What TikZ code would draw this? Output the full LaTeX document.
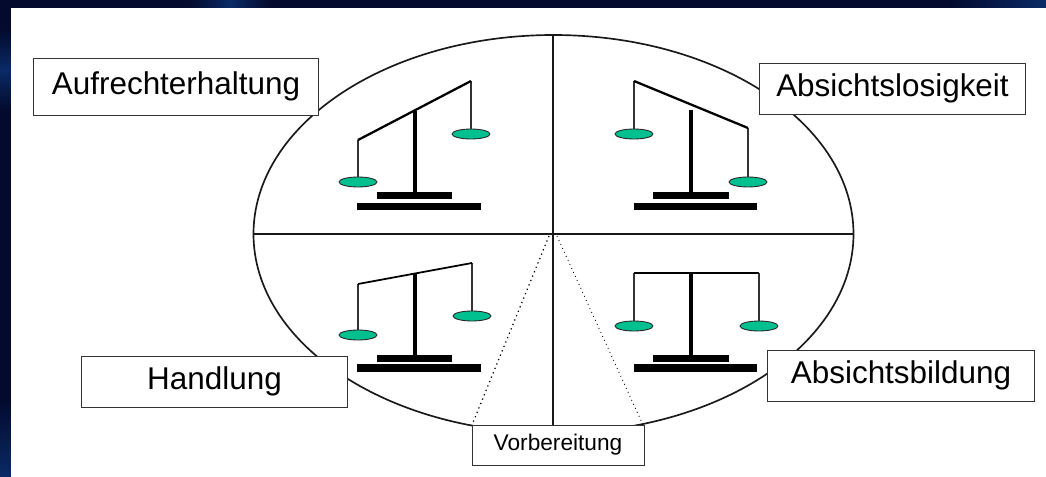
\documentclass[tikz,border=0pt]{standalone}
\usepackage{fontspec}
\setmainfont{Liberation Sans}
\begin{document}
\begin{tikzpicture}[x=0.02cm, y=-0.02cm,
        labelbox/.style={draw=black!80, fill=white, line width=0.55pt, inner sep=0pt, font=\fontsize{17.9pt}{20pt}\selectfont},
        smallbox/.style={labelbox, font=\fontsize{12.9pt}{15pt}\selectfont},
        pan/.style={draw=black!85, fill=panGreen, line width=0.5pt},
        string/.style={draw=black!80, line width=0.6pt},
        beam/.style={draw=black, line width=1.3pt},
        post/.style={draw=black, line width=2.2pt},
        foot/.style={fill=black},
        divider/.style={draw=black!90, line width=0.95pt}]
        \definecolor{panGreen}{HTML}{00C090}
        \definecolor{navyBack}{HTML}{030A2E}
        \definecolor{navyLight}{HTML}{0A2A66}
        \useasboundingbox (0,0) rectangle (1046,477);

        % Backdrop
        \fill[navyBack] (0,0) rectangle (1046,477);
        \shade[top color=navyBack, bottom color=navyLight] (0,400) rectangle (11,477);
        \shade[top color=navyBack, bottom color=navyBack, middle color=navyLight] (0,30) rectangle (11,110);
        \shade[left color=navyBack, right color=navyBack, middle color=navyLight] (190,0) rectangle (270,8);
        \shade[left color=navyBack, right color=navyLight] (950,0) rectangle (1046,8);
        \fill[white] (11,8) rectangle (1046,477);

        % Circle and quadrants
        \draw[divider] (553.5,234) ellipse (300 and 199);
        \draw[divider] (253.5,234) -- (853.5,234);
        \draw[divider] (553,35) -- (553,433);

        % Scale top left
        \draw[string] (358,140) -- (358,182);
        \draw[string] (471,81) -- (471,134);
        \draw[beam] (358,140) -- (471,81);
        \draw[post] (415,111) -- (415,193);
        \fill[foot] (377,192) rectangle (452,199);
        \fill[foot] (357,203) rectangle (481,210);
        \draw[pan] (358,182) ellipse (19 and 5);
        \draw[pan] (471,134) ellipse (19 and 5);

        % Scale top right
        \draw[string] (634,81) -- (634,134);
        \draw[string] (748,128) -- (748,182);
        \draw[beam] (634,81) -- (748,128);
        \draw[post] (691,110) -- (691,193);
        \fill[foot] (653,192) rectangle (729,199);
        \fill[foot] (634,203) rectangle (757,210);
        \draw[pan] (634,134) ellipse (19 and 5);
        \draw[pan] (748,182) ellipse (19 and 5);

        % Scale bottom left
        \draw[string] (358,284) -- (358,335);
        \draw[string] (472,263) -- (472,316);
        \draw[beam, line width=1pt] (358,284) -- (472,263);
        \draw[post] (415,274) -- (415,356);
        \fill[foot] (377,355) rectangle (452,362);
        \fill[foot] (357,364) rectangle (481,372);
        \draw[pan] (358,335) ellipse (19 and 5);
        \draw[pan] (472,316) ellipse (19 and 5);

        % Scale bottom right
        \draw[string] (634,273) -- (634,326);
        \draw[string] (759,273) -- (759,326);
        \draw[beam] (634,273) -- (759,273);
        \draw[post] (691,273) -- (691,356);
        \fill[foot] (653,355) rectangle (729,362);
        \fill[foot] (634,364) rectangle (757,372);
        \draw[pan] (634,326) ellipse (19 and 5);
        \draw[pan] (759,326) ellipse (19 and 5);

        % Preparation wedge
        \draw[dotted, line width=0.7pt] (549,236) -- (472,425);
        \draw[dotted, line width=0.5pt] (557,236) -- (643,425);

        % Stage labels
        \node[labelbox, minimum width=5.72cm, minimum height=1.14cm] (erhalt) at (176,86.5) {Aufrechterhaltung};
        \node[labelbox, minimum width=5.33cm, minimum height=1.02cm] (losigkeit) at (892.5,88.5) {Absichtslosigkeit};
        \node[labelbox, minimum width=5.34cm, minimum height=1.02cm] (handlung) at (214.5,381.5) {Handlung};
        \node[labelbox, minimum width=5.35cm, minimum height=1.02cm] (bildung) at (901,375.5) {Absichtsbildung};
        \node[smallbox, minimum width=3.44cm, minimum height=0.8cm] (vorbereitung) at (558,445) {Vorbereitung};
\end{tikzpicture}
\end{document}
